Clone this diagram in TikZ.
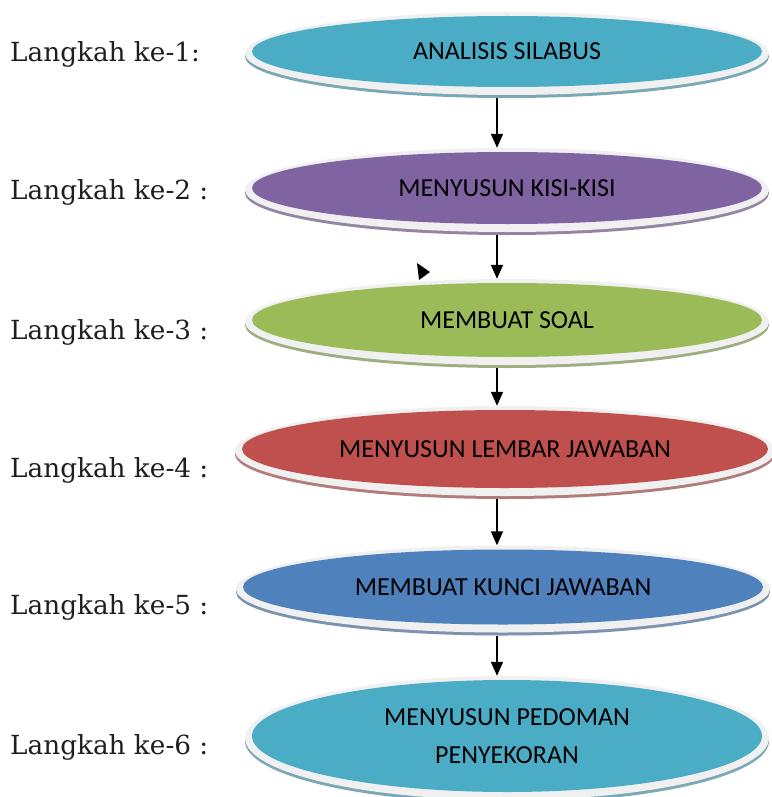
\documentclass[tikz,border=0pt]{standalone}
\usepackage{fontspec}
\newfontfamily\boxfont{Carlito}
\newfontfamily\labelfont{DejaVu Serif}
\usetikzlibrary{shapes.geometric,arrows.meta}
\definecolor{cTeal}{HTML}{4BACC6}
\definecolor{cPurple}{HTML}{8064A2}
\definecolor{cGreen}{HTML}{9BBB59}
\definecolor{cRed}{HTML}{C0504D}
\definecolor{cBlue}{HTML}{4F81BD}
\definecolor{rimgray}{HTML}{F0F0F0}
\newcommand\stepell[7]{%
  \fill[#6!55!gray!85!white] (#2,#3+5) ellipse [x radius=#4+7, y radius=#5+6];
  \fill[rimgray] (#2,#3+2) ellipse [x radius=#4+7, y radius=#5+6];
  \node[stepellipse, fill=#6, minimum width=2*#4, minimum height=2*#5] (#1) at (#2,#3) {#7};
}
\begin{document}
\begin{tikzpicture}[x=1pt,y=-1pt,
  stepellipse/.style={ellipse, inner sep=0pt, align=center,
    font=\boxfont\fontsize{26}{38}\selectfont, text=black},
  steplabel/.style={anchor=base west, inner sep=0pt,
    font=\labelfont\fontsize{26.3}{30}\selectfont, text=black!88},
  arr/.style={line width=1.6pt, -{Triangle[length=14pt,width=12pt]}}]
\useasboundingbox (0,0) rectangle (771,797);
\fill[white] (0,0) rectangle (771,797);

\stepell{e1}{507}{51.5}{255}{35.5}{cTeal}{ANALISIS SILABUS}
\stepell{e2}{507}{188}{255}{36}{cPurple}{MENYUSUN KISI-KISI}
\stepell{e3}{507}{320}{255}{37}{cGreen}{MEMBUAT SOAL}
\stepell{e4}{505}{449}{263}{39}{cRed}{MENYUSUN LEMBAR JAWABAN}
\stepell{e5}{503}{587}{260}{37.5}{cBlue}{MEMBUAT KUNCI JAWABAN}
\stepell{e6}{507}{736}{255}{56}{cTeal}{MENYUSUN PEDOMAN\\PENYEKORAN}

\node[steplabel] (l1) at (10,62) {Langkah ke-1:};
\node[steplabel] (l2) at (10,199) {Langkah ke-2 :};
\node[steplabel] (l3) at (10,339) {Langkah ke-3 :};
\node[steplabel] (l4) at (10,477) {Langkah ke-4 :};
\node[steplabel] (l5) at (10,614) {Langkah ke-5 :};
\node[steplabel] (l6) at (10,754) {Langkah ke-6 :};

\draw[arr] ([xshift=-10pt,yshift=-11pt]e1.south) -- ([xshift=-10pt,yshift=4pt]e2.north);
\draw[arr] ([xshift=-10pt,yshift=-11pt]e2.south) -- ([xshift=-10pt,yshift=4pt]e3.north);
\draw[arr] ([xshift=-10pt,yshift=-11pt]e3.south) -- ([xshift=-8pt,yshift=4pt]e4.north);
\draw[arr] ([xshift=-8pt,yshift=-11pt]e4.south) -- ([xshift=-6pt,yshift=4pt]e5.north);
\draw[arr] ([xshift=-6pt,yshift=-11pt]e5.south) -- ([xshift=-10pt,yshift=4pt]e6.north);

\fill[black] (417,263) -- (430,272) -- (419,280) -- cycle;
\end{tikzpicture}
\end{document}
